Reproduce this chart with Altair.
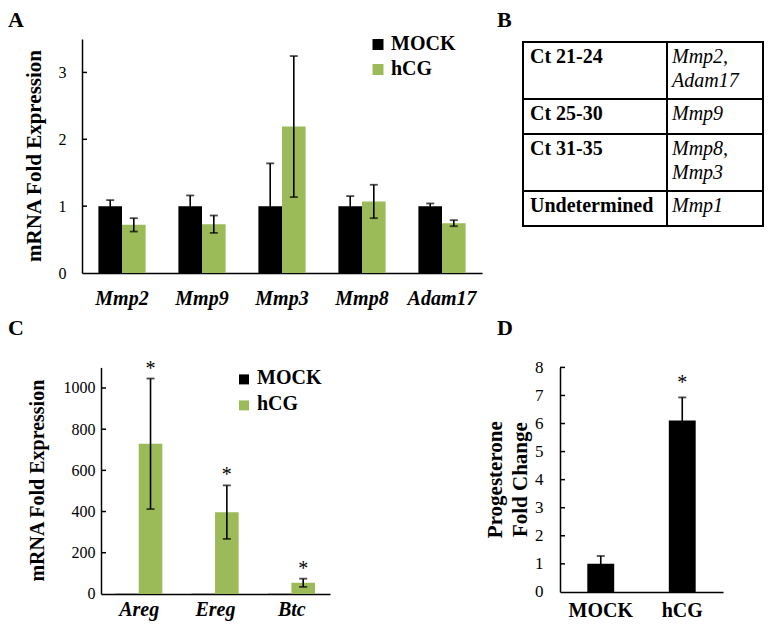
import altair as alt
import pandas as pd

FONT = "Liberation Serif, Times New Roman, Times, serif"
SERIES = ["MOCK", "hCG"]
SERIES_COLORS = ["#000000", "#9BBB59"]

# ---------------- Panel A ----------------
genes_a = ["Mmp2", "Mmp9", "Mmp3", "Mmp8", "Adam17"]
mock_a = [1.0, 1.0, 1.0, 1.0, 1.0]
mock_a_err = [0.09, 0.16, 0.64, 0.15, 0.04]
hcg_a = [0.72, 0.73, 2.19, 1.07, 0.745]
hcg_a_err = [0.10, 0.13, 1.055, 0.25, 0.045]
ticks_a = [0, 1, 2, 3]

# ---------------- Panel B ----------------
ct_ranges = ["Ct 21-24", "Ct 25-30", "Ct 31-35", "Undetermined"]
ct_genes = [["Mmp2,", "Adam17"], ["Mmp9"], ["Mmp8,", "Mmp3"], ["Mmp1"]]

# ---------------- Panel C ----------------
genes_c = ["Areg", "Ereg", "Btc"]
mock_c = [1.0, 1.0, 1.0]
mock_c_err = [0.0, 0.0, 0.0]
hcg_c = [729, 397, 54]
hcg_c_err = [317, 130, 20]
sig_c = [True, True, True]
ticks_c = [0, 200, 400, 600, 800, 1000]

# ---------------- Panel D ----------------
groups_d = ["MOCK", "hCG"]
prog_d = [1.0, 6.11]
prog_d_err = [0.28, 0.82]
sig_d = [False, True]
ticks_d = [0, 1, 2, 3, 4, 5, 6, 7, 8]

Y_TITLE = "mRNA Fold Expression"
D_TITLE = ["Progesterone", "Fold Change"]


def grouped(cats, mock, mock_err, hcg, hcg_err, sig=None):
    rows = []
    for i, c in enumerate(cats):
        for s, v, e in (("MOCK", mock[i], mock_err[i]), ("hCG", hcg[i], hcg_err[i])):
            rows.append({"gene": c, "series": s, "value": v, "lo": v - e, "hi": v + e,
                         "err": e, "sig": (bool(sig[i]) and s == "hCG") if sig else False})
    return pd.DataFrame(rows)


def label_mark(text, x, y, size, angle=0, align="left", weight="bold"):
    return alt.Chart(pd.DataFrame({"t": [text]})).mark_text(
        font=FONT, fontSize=size, fontWeight=weight, color="black", align=align,
        baseline="alphabetic", angle=angle).encode(
        text="t:N", x=alt.value(x), y=alt.value(y))


def spacer(x, y=50):
    return alt.Chart(pd.DataFrame({"s": [0]})).mark_rule(strokeOpacity=0).encode(
        x=alt.value(x), x2=alt.value(x + 0.5), y=alt.value(y))


def manual_legend(cx, cy, pitch, side, gap):
    layers = []
    for i, (s, col) in enumerate(zip(SERIES, SERIES_COLORS)):
        d = pd.DataFrame({"s": [s]})
        y = cy + i * pitch
        layers.append(alt.Chart(d).mark_square(size=side * side, color=col, opacity=1,
                                               filled=True, strokeWidth=0).encode(
            x=alt.value(cx), y=alt.value(y)))
        layers.append(alt.Chart(d).mark_text(
            align="left", baseline="middle", font=FONT, fontSize=20, fontWeight="bold",
            color="black").encode(text="s:N", x=alt.value(cx + side / 2 + gap),
                                  y=alt.value(y - 1)))
    return layers


def y_axis(values, label_size, label_pad):
    return alt.Axis(values=values, tickCount=len(values) + 1, format="d",
                    labelOverlap=False, title=None, labelFont=FONT,
                    labelFontSize=label_size, labelColor="black", labelPadding=label_pad,
                    ticks=False, tickSize=0, grid=False, domainColor="black",
                    domainWidth=1.5)


def x_axis(label_pad, italic=True, baseline="top"):
    kw = dict(labelAngle=0, labelFont=FONT, labelFontSize=20, labelFontWeight="bold",
              labelColor="black", labelPadding=label_pad, labelOverlap=False,
              labelBaseline=baseline, ticks=False, tickSize=0, domainColor="black",
              domainWidth=1.5)
    if italic:
        kw["labelFontStyle"] = "italic"
    return alt.Axis(**kw)


def inner_ticks(values, length=5):
    df = pd.DataFrame({"value": values})
    return alt.Chart(df).mark_rule(color="black", strokeWidth=1.5).encode(
        y=alt.Y("value:Q"), x=alt.value(0), x2=alt.value(length))


def bar_panel(df, cats, y_dom, yvals, label_size, label_pad, pad_in, xax, width, height,
              extra, star_dy=None):
    x = alt.X("gene:N", sort=cats, title=None,
              scale=alt.Scale(paddingInner=pad_in, paddingOuter=pad_in / 2), axis=xax)
    xo = alt.XOffset("series:N", sort=SERIES,
                     scale=alt.Scale(domain=SERIES, paddingInner=0, paddingOuter=0))
    base = alt.Chart(df)
    bars = base.mark_bar().encode(
        x=x, xOffset=xo,
        y=alt.Y("value:Q", scale=alt.Scale(domain=y_dom, nice=False),
                axis=y_axis(yvals, label_size, label_pad)),
        color=alt.Color("series:N", sort=SERIES,
                        scale=alt.Scale(domain=SERIES, range=SERIES_COLORS), legend=None),
    )
    eb = base.transform_filter("datum.err > 0")
    rules = eb.mark_rule(color="black", strokeWidth=1.6).encode(
        x=x, xOffset=xo, y="lo:Q", y2="hi:Q")
    cap_hi = eb.mark_tick(color="black", thickness=1.8, size=8).encode(
        x=x, xOffset=xo, y="hi:Q")
    cap_lo = eb.mark_tick(color="black", thickness=1.8, size=8).encode(
        x=x, xOffset=xo, y="lo:Q")
    layers = [bars, rules, cap_hi, cap_lo, inner_ticks([v for v in yvals if v > 0])]
    if star_dy is not None:
        stars = base.transform_filter("datum.sig").mark_text(
            text="*", font=FONT, fontSize=20, color="black", baseline="alphabetic",
            dy=star_dy).encode(x=x, xOffset=xo, y="hi:Q")
        layers.append(stars)
    layers += extra
    return alt.layer(*layers).properties(width=width, height=height)


# ---- A ----
A_H = 234
dfa = grouped(genes_a, mock_a, mock_a_err, hcg_a, hcg_a_err)
chart_a = bar_panel(
    dfa, genes_a, [0, 3.5], ticks_a, 16, 16, 0.41, x_axis(15), 400, A_H,
    [label_mark("A", -74, -12.4, 22),
     label_mark(Y_TITLE, -41, A_H / 2, 21, angle=270, align="center")]
    + manual_legend(296, 5.5, 25, 11, 7.5))

# ---- C ----
C_H = 226.5
dfc = grouped(genes_c, mock_c, mock_c_err, hcg_c, hcg_c_err, sig_c)
chart_c = bar_panel(
    dfc, genes_c, [0, 1100], ticks_c, 16, 6, 0.37, x_axis(22, baseline="alphabetic"),
    229, C_H,
    [label_mark("C", -93, -32.5, 22),
     label_mark(Y_TITLE, -57, C_H / 2, 20, angle=270, align="center")]
    + manual_legend(143, 12, 26, 10, 8),
    star_dy=-4)

# ---- D ----
D_H = 224.5
dfd = pd.DataFrame({"group": groups_d, "value": prog_d, "err": prog_d_err, "sig": sig_d})
dfd["lo"] = dfd["value"] - dfd["err"]
dfd["hi"] = dfd["value"] + dfd["err"]
xd = alt.X("group:N", sort=groups_d, title=None,
           scale=alt.Scale(paddingInner=0.67, paddingOuter=0.335),
           axis=x_axis(25, italic=False, baseline="alphabetic"))
base_d = alt.Chart(dfd)
bars_d = base_d.mark_bar(color="black").encode(
    x=xd, y=alt.Y("value:Q", scale=alt.Scale(domain=[0, 8], nice=False),
                  axis=y_axis(ticks_d, 17, 17)))
rule_d = base_d.mark_rule(color="black", strokeWidth=1.6).encode(x=xd, y="lo:Q", y2="hi:Q")
cap_d = base_d.mark_tick(color="black", thickness=1.8, size=8).encode(x=xd, y="hi:Q")
star_d = base_d.transform_filter("datum.sig").mark_text(
    text="*", font=FONT, fontSize=20, color="black", baseline="alphabetic", dy=-8
).encode(x=xd, y="hi:Q")
chart_d = alt.layer(
    bars_d, rule_d, cap_d, inner_ticks(ticks_d[1:]), star_d,
    label_mark("D", -63, -32.5, 22),
    label_mark(D_TITLE[0], -58, D_H / 2, 21, angle=270, align="center"),
    label_mark(D_TITLE[1], -33, D_H / 2, 21, angle=270, align="center"),
    spacer(-75),
).properties(width=163, height=D_H)

# ---- B (table) ----
LINE = 24
TOP_GAP = 3
row_h = [13 + 22 * len(g) for g in ct_genes]
cells, texts = [], []
top = 0
split = 0.6
for rng, genes, h in zip(ct_ranges, ct_genes, row_h):
    cells.append({"x0": 0, "x1": split, "y0": top, "y1": top + h})
    cells.append({"x0": split, "x1": 1, "y0": top, "y1": top + h})
    texts.append({"x0": 0, "ty": top + 15, "label": rng, "col": "range"})
    for k, g in enumerate(genes):
        texts.append({"x0": split, "ty": top + 15 + LINE * k, "label": g, "col": "gene"})
    top += h
total_h = top
cells_df = pd.DataFrame(cells)
texts_df = pd.DataFrame(texts)
xs = alt.Scale(domain=[0, 1], nice=False, zero=False)
ys = alt.Scale(domain=[-TOP_GAP, total_h], nice=False, zero=False, reverse=True)
rects = alt.Chart(cells_df).mark_rect(fillOpacity=0, stroke="black", strokeWidth=2).encode(
    x=alt.X("x0:Q", scale=xs, axis=None), x2="x1:Q",
    y=alt.Y("y0:Q", scale=ys, axis=None), y2="y1:Q")
t_left = alt.Chart(texts_df).transform_filter("datum.col == 'range'").mark_text(
    align="left", baseline="middle", font=FONT, fontSize=20, fontWeight="bold",
    color="black", dx=7).encode(
    x=alt.X("x0:Q", scale=xs, axis=None), y=alt.Y("ty:Q", scale=ys, axis=None), text="label:N")
t_right = alt.Chart(texts_df).transform_filter("datum.col == 'gene'").mark_text(
    align="left", baseline="middle", font=FONT, fontSize=20, fontStyle="italic",
    color="black", dx=5).encode(
    x=alt.X("x0:Q", scale=xs, axis=None), y=alt.Y("ty:Q", scale=ys, axis=None), text="label:N")
chart_b = alt.layer(rects, t_left, t_right, label_mark("B", -26, -12.4, 22),
                    spacer(-57)).properties(width=240, height=total_h + TOP_GAP)


def dummy():
    return alt.Chart(pd.DataFrame({"s": [0]})).mark_rule(strokeOpacity=0).encode(
        x=alt.value(0), x2=alt.value(0.5), y=alt.value(0)).properties(width=15.5, height=1)


chart = alt.concat(
    dummy(), chart_a, chart_b, dummy(), chart_c, chart_d, columns=3,
    spacing=alt.RowColnumber(row=8.4, column=-16),
    align=alt.RowColLayoutAlign(row="each", column="none"),
    bounds="full",
).properties(padding=0, background="white").configure_view(stroke=None)

chart.save("out.html", embed_options={"renderer": "svg", "actions": False})
